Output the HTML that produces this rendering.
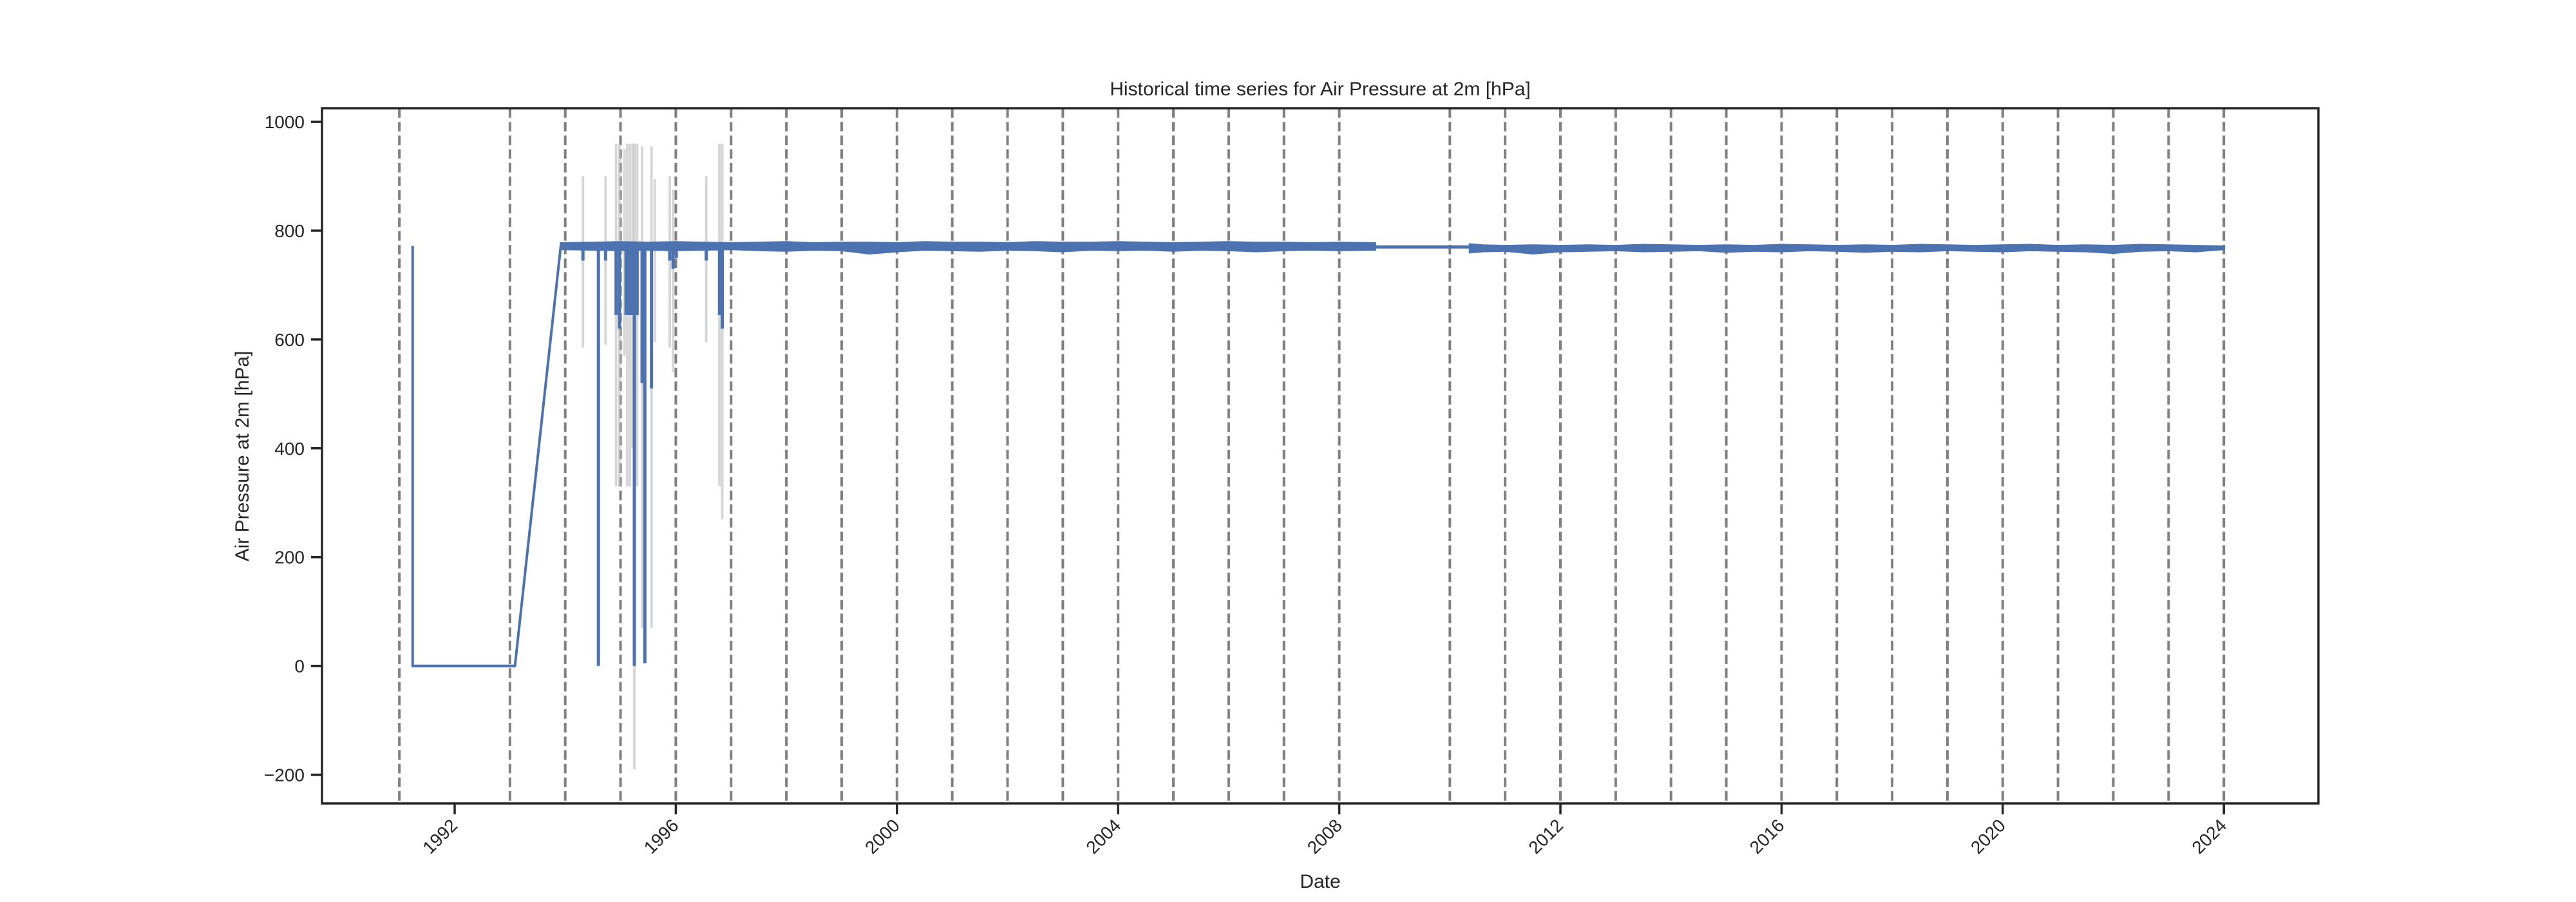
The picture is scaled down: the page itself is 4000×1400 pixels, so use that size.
<!DOCTYPE html>
<html><head><meta charset="utf-8"><style>
html,body{margin:0;padding:0;background:#fff;}
svg{display:block;font-family:"Liberation Sans",Arial,sans-serif;}
</style></head><body>
<svg id="chart" width="4000" height="1400" viewBox="0 0 4000 1400">
<rect width="4000" height="1400" fill="#fff"/>
<g id="grid"></g>
<g id="gray"></g>
<g id="blue"></g>
<g id="axes"></g>
<text x="2050" y="148" text-anchor="middle" font-size="30" fill="#262626">Historical time series for Air Pressure at 2m [hPa]</text>
<text x="0" y="0" transform="translate(386,708) rotate(-90)" text-anchor="middle" font-size="30" fill="#262626">Air Pressure at 2m [hPa]</text>
<text x="2050" y="1378" text-anchor="middle" font-size="30" fill="#262626">Date</text>
</svg>
<script>
const yTicks=[-200,0,200,400,600,800,1000];
const xTickYears=[1992,1996,2000,2004,2008,2012,2016,2020,2024];
const dividerYears=[1991,1993,1994,1995,1996,1997,1998,1999,2000,2001,2002,2003,2004,2005,2006,2007,2008,2010,2011,2012,2013,2014,2015,2016,2017,2018,2019,2020,2021,2022,2023,2024];
const lineYears=[1991.24,1991.24,1993.09,1993.92];
const lineValues=[772,0,0,772];
const bandYears=[1993.92,1994.5,1995,1995.5,1996,1996.5,1997,1997.5,1998,1998.5,1999,1999.5,2000,2000.5,2001,2001.5,2002,2002.5,2003,2003.5,2004,2004.5,2005,2005.5,2006,2006.5,2007,2007.5,2008,2008.65];
const bandMin=[766,765,764,765,764,765,766,764,763,765,764,758,762,765,764,763,765,764,762,765,764,765,763,765,764,762,764,765,764,765];
const bandMax=[777,778,779,778,779,778,777,778,779,777,778,778,777,779,778,778,777,779,778,778,779,778,777,778,779,778,778,777,778,777];
const gapYears=[2008.65,2010.36];
const gapValues=[770,770];
const band2Years=[2010.36,2010.6,2011,2011.5,2012,2012.5,2013,2013.5,2014,2014.5,2015,2015.5,2016,2016.5,2017,2017.5,2018,2018.5,2019,2019.5,2020,2020.5,2021,2021.5,2022,2022.5,2023,2023.5,2024.0];
const band2Min=[760,762,763,758,762,763,764,762,763,764,761,763,762,764,763,761,763,762,764,763,762,764,763,762,759,763,764,762,766];
const band2Max=[775,773,772,773,772,773,772,774,773,772,773,772,774,773,772,773,772,774,773,772,773,774,772,773,772,774,773,772,771];
const spikeYears=[1994.32,1994.60,1994.73,1994.92,1994.98,1995.25,1995.39,1995.44,1995.56,1995.89,1995.95,1996.01,1996.55,1996.79,1996.84];
const spikeLows=[745,0,745,645,620,0,520,5,510,745,730,750,745,645,620];
const blockStart=[1995.07];
const blockEnd=[1995.33];
const blockLow=[645];
const grayYears=[1994.32,1994.60,1994.73,1994.92,1994.98,1995.07,1995.12,1995.17,1995.22,1995.25,1995.30,1995.39,1995.56,1995.62,1995.89,1995.95,1996.55,1996.79,1996.84];
const grayLows=[585,890,590,330,330,570,330,330,400,-190,330,70,70,595,585,540,595,330,270];
const grayHighs=[900,890,900,960,960,950,960,960,960,960,960,955,955,895,900,875,900,960,960];

const L=500,R=3600,T=168,B=1247;
const X0=706,PXY=85.85;
function xs(yr){return X0+(yr-1992)*PXY;}
function ys(v){return 1033.6-v*0.8445;}
const NS="http://www.w3.org/2000/svg";
function mk(tag,attrs,parent){const e=document.createElementNS(NS,tag);for(const k in attrs)e.setAttribute(k,attrs[k]);parent.appendChild(e);return e;}
const grid=document.getElementById('grid'),gray=document.getElementById('gray'),blue=document.getElementById('blue'),axes=document.getElementById('axes');

dividerYears.forEach(yr=>{
  const l=mk('line',{x1:xs(yr),x2:xs(yr),y1:T,y2:B,stroke:'#808080','stroke-width':4,'stroke-dasharray':'14.8 6.4'},grid);
  
  
});
grayYears.forEach((yr,i)=>{
  const l=mk('line',{x1:xs(yr),x2:xs(yr),y1:ys(grayHighs[i]),y2:ys(grayLows[i]),stroke:'#bdbdbd','stroke-opacity':0.6,'stroke-width':4},gray);
  
  
});
function poly(xsArr,vals,name,w){
  const d=xsArr.map((yr,i)=>(i?'L':'M')+xs(yr).toFixed(1)+','+ys(vals[i]).toFixed(1)).join('');
  const p=mk('path',{d:d,fill:'none',stroke:'#4c72b0','stroke-width':w,'stroke-linejoin':'round'},blue);
  
  
}
poly(lineYears,lineValues,'early-series-line',4);
poly(gapYears,gapValues,'gap-interpolation-line',5);
function band(yrs,mn,mx,name){
  let d='';
  yrs.forEach((yr,i)=>{d+=(i?'L':'M')+xs(yr).toFixed(1)+','+ys(mx[i]).toFixed(1);});
  for(let i=yrs.length-1;i>=0;i--){d+='L'+xs(yrs[i]).toFixed(1)+','+ys(mn[i]).toFixed(1);}
  d+='Z';
  const p=mk('path',{d:d,fill:'#4c72b0',stroke:'#4c72b0','stroke-width':3},blue);
  
  
}
band(bandYears,bandMin,bandMax,'series-band-1994-2008');
band(band2Years,band2Min,band2Max,'series-band-2010-2024');
blockStart.forEach((s,i)=>{
  const r=mk('rect',{x:xs(s),y:ys(772),width:xs(blockEnd[i])-xs(s),height:ys(blockLow[i])-ys(772),fill:'#4c72b0'},blue);
  
  
});
spikeYears.forEach((yr,i)=>{
  const l=mk('line',{x1:xs(yr),x2:xs(yr),y1:ys(772),y2:ys(spikeLows[i]),stroke:'#4c72b0','stroke-width':5},blue);
  
  
});

const frame=mk('rect',{x:L,y:T,width:R-L,height:B-T,fill:'none',stroke:'#262626','stroke-width':3.5},axes);


yTicks.forEach(v=>{
  const y=ys(v);
  const t=mk('line',{x1:L-17,x2:L,y1:y,y2:y,stroke:'#262626','stroke-width':3.5},axes);
  
  
  const tx=mk('text',{x:L-27,y:y+10,'text-anchor':'end','font-size':28,fill:'#262626'},axes);
  tx.textContent=v<0?'\u2212'+Math.abs(v):String(v);
  
  
});
xTickYears.forEach(yr=>{
  const x=xs(yr);
  const t=mk('line',{x1:x,x2:x,y1:B,y2:B+17,stroke:'#262626','stroke-width':3.5},axes);
  
  
  const tx=mk('text',{x:0,y:0,transform:'translate('+(x+6)+','+(B+36)+') rotate(-45)','text-anchor':'end','font-size':28,fill:'#262626'},axes);
  tx.textContent=String(yr);
  
  
});
</script>
</body></html>
